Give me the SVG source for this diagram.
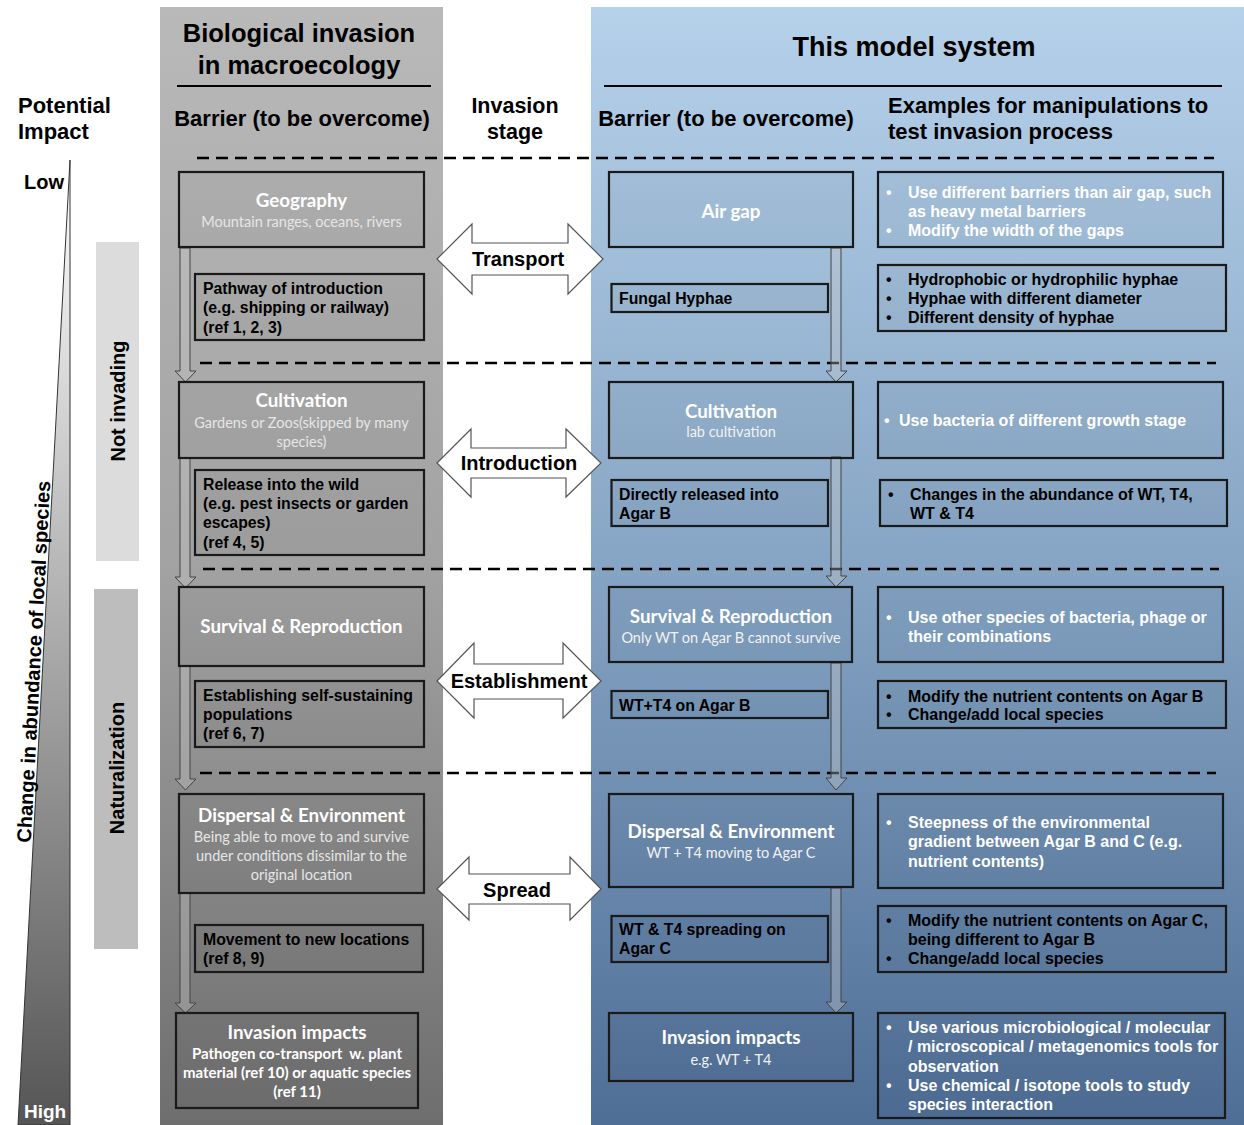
<svg xmlns="http://www.w3.org/2000/svg" width="1244" height="1125" viewBox="0 0 1244 1125">
<defs>
<linearGradient id="gL" x1="0" y1="0" x2="0" y2="1"><stop offset="0" stop-color="#b9b9b9"/><stop offset="0.5" stop-color="#a2a2a2"/><stop offset="1" stop-color="#6e6e6e"/></linearGradient>
<linearGradient id="gR" x1="0" y1="0" x2="0" y2="1"><stop offset="0" stop-color="#b6d1ea"/><stop offset="0.5" stop-color="#86a5c4"/><stop offset="1" stop-color="#4f6e96"/></linearGradient>
<linearGradient id="gT" x1="0" y1="0" x2="0" y2="1"><stop offset="0" stop-color="#ffffff"/><stop offset="1" stop-color="#555555"/></linearGradient>
<style>
.h{font-family:"Liberation Sans",Arial,sans-serif;font-weight:bold;fill:#000}
.box{fill:rgba(0,0,0,0.03);stroke:#1a1a1a;stroke-width:2.2}
.t{font-family:Lato,"Open Sans",sans-serif;font-weight:bold;font-size:18.8px;fill:#fff;text-anchor:middle}
.s{font-family:Lato,"Open Sans",sans-serif;font-size:14.5px;fill:#e6e6e6;text-anchor:middle}
.sb{font-family:Lato,"Open Sans",sans-serif;font-weight:bold;font-size:15px;fill:#fff;text-anchor:middle}
.b{font-family:"Liberation Sans",Arial,sans-serif;font-weight:bold;font-size:15.8px;fill:#000}
.w{font-family:"Liberation Sans",Arial,sans-serif;font-weight:bold;font-size:16px;fill:#fff}
.e{font-family:"Liberation Sans",Arial,sans-serif;font-weight:bold;font-size:16px;fill:#000}
.dash{stroke:#000;stroke-width:2.5;stroke-dasharray:12 7;fill:none}
.arr{fill:#c8c8c8;fill-opacity:0.35;stroke:#444;stroke-width:1}
.darr{fill:#fff;stroke:#555;stroke-width:1.2}
.lab{font-family:"Liberation Sans",Arial,sans-serif;font-weight:bold;font-size:20px;fill:#000;text-anchor:middle}
</style>
</defs>
<g id="background">
<rect x="160" y="7" width="283" height="1118" fill="url(#gL)"/>
<rect x="591" y="7" width="653" height="1118" fill="url(#gR)"/>
<polygon points="70,160 70,1125 18,1125" fill="url(#gT)" stroke="#333" stroke-width="1"/>
<rect x="96" y="242" width="43" height="319" fill="#dcdcdc"/>
<rect x="94" y="589" width="44" height="360" fill="#bdbdbd"/>
</g>
<g id="headers">
<text class="h" x="18" y="113" font-size="22">Potential</text>
<text class="h" x="18" y="139" font-size="22">Impact</text>
<text class="h" x="24" y="189" font-size="20">Low</text>
<text class="h" x="24" y="1118" font-size="19" style="fill:#fff">High</text>
<text class="h" font-size="20" text-anchor="middle" transform="translate(40.5,662) rotate(-86.9)">Change in abundance of local species</text>
<text class="h" font-size="20" text-anchor="middle" transform="translate(125,401) rotate(-90)">Not invading</text>
<text class="h" font-size="20" text-anchor="middle" transform="translate(124,768) rotate(-90)">Naturalization</text>
<text class="h" x="299" y="42" font-size="25.5" text-anchor="middle">Biological invasion</text>
<text class="h" x="299" y="74" font-size="25.5" text-anchor="middle">in macroecology</text>
<line x1="177" y1="86" x2="431" y2="86" stroke="#000" stroke-width="2"/>
<text class="h" x="302" y="126" font-size="22" text-anchor="middle">Barrier (to be overcome)</text>
<text class="h" x="515" y="113" font-size="21.5" text-anchor="middle">Invasion</text>
<text class="h" x="515" y="139" font-size="21.5" text-anchor="middle">stage</text>
<text class="h" x="914" y="56" font-size="27" text-anchor="middle">This model system</text>
<line x1="604" y1="86" x2="1222" y2="86" stroke="#000" stroke-width="2"/>
<text class="h" x="726" y="126" font-size="22" text-anchor="middle">Barrier (to be overcome)</text>
<text class="h" x="888" y="113" font-size="22">Examples for manipulations to</text>
<text class="h" x="888" y="139" font-size="22">test invasion process</text>
<line class="dash" x1="197" y1="158" x2="1214" y2="158"/>
<line class="dash" x1="200" y1="363" x2="1216" y2="363"/>
<line class="dash" x1="203" y1="569" x2="1219" y2="569"/>
<line class="dash" x1="200" y1="773" x2="1216" y2="773"/>
</g>
<g id="connectors">
<polygon class="arr" points="180,248 190,248 190,371 196,371 185.5,382 175,371 180,371"/>
<polygon class="arr" points="180,458 190,458 190,577 196,577 185.5,588 175,577 180,577"/>
<polygon class="arr" points="180,666 190,666 190,779 196,779 185.5,790 175,779 180,779"/>
<polygon class="arr" points="180,893 190,893 190,1003 196,1003 185.5,1013 175,1003 180,1003"/>
<polygon class="arr" points="831,248 841,248 841,371 847,371 836,382 826,371 831,371"/>
<polygon class="arr" points="831,457 841,457 841,576 847,576 836,587 826,576 831,576"/>
<polygon class="arr" points="831,663 841,663 841,778 847,778 836,790 826,778 831,778"/>
<polygon class="arr" points="831,888 841,888 841,1002 847,1002 836,1013 826,1002 831,1002"/>
<polygon class="darr" points="437,259 472,224 472,243 568,243 568,224 603,259 568,294 568,275 472,275 472,294"/>
<polygon class="darr" points="437,463 471,429 471,448 566,448 566,429 601,463 566,497 566,478 471,478 471,497"/>
<polygon class="darr" points="437,681 474,643 474,664 563,664 563,643 601,681 563,718 563,699 474,699 474,718"/>
<polygon class="darr" points="437,889 469,857 469,874 570,874 570,857 601,889 570,920 570,904 469,904 469,920"/>
<text class="lab" x="518" y="266">Transport</text>
<text class="lab" x="519" y="470">Introduction</text>
<text class="lab" x="519" y="688">Establishment</text>
<text class="lab" x="517" y="897">Spread</text>
</g>
<g id="geography"><rect class="box" x="179" y="172" width="245" height="75"/>
<text class="t" x="301.5" y="207">Geography</text><text class="s" x="301.5" y="226.5">Mountain ranges, oceans, rivers</text></g>
<g id="pathway"><rect class="box" x="195" y="274" width="229" height="66"/>
<text class="b" x="203" y="293.5">Pathway of introduction</text><text class="b" x="203" y="313">(e.g. shipping or railway)</text><text class="b" x="203" y="332.5">(ref 1, 2, 3)</text></g>
<g id="cultivation-l"><rect class="box" x="179" y="382" width="245" height="76"/>
<text class="t" x="301.5" y="407">Cultivation</text><text class="s" x="301.5" y="427.5">Gardens or Zoos(skipped by many</text><text class="s" x="301.5" y="446.5">species)</text></g>
<g id="release"><rect class="box" x="195" y="470" width="229" height="85"/>
<text class="b" x="203" y="489.5">Release into the wild</text><text class="b" x="203" y="508.5">(e.g. pest insects or garden</text><text class="b" x="203" y="528">escapes)</text><text class="b" x="203" y="547.5">(ref 4, 5)</text></g>
<g id="survival-l"><rect class="box" x="179" y="587" width="245" height="79"/>
<text class="t" x="301.5" y="633">Survival &amp; Reproduction</text></g>
<g id="establishing"><rect class="box" x="195" y="681" width="229" height="66"/>
<text class="b" x="203" y="701">Establishing self-sustaining</text><text class="b" x="203" y="720">populations</text><text class="b" x="203" y="739">(ref 6, 7)</text></g>
<g id="dispersal-l"><rect class="box" x="179" y="794" width="245" height="99"/>
<text class="t" x="301.5" y="822">Dispersal &amp; Environment</text><text class="s" x="301.5" y="841.5">Being able to move to and survive</text><text class="s" x="301.5" y="860.5">under conditions dissimilar to the</text><text class="s" x="301.5" y="879.5">original location</text></g>
<g id="movement"><rect class="box" x="195" y="925" width="228" height="47"/>
<text class="b" x="203" y="944.5">Movement to new locations</text><text class="b" x="203" y="963.5">(ref 8, 9)</text></g>
<g id="impacts-l"><rect class="box" x="176" y="1013" width="242" height="95"/>
<text class="t" x="297" y="1039">Invasion impacts</text><text class="sb" x="297" y="1059">Pathogen co-transport &#160;w. plant</text><text class="sb" x="297" y="1078">material (ref 10) or aquatic species</text><text class="sb" x="297" y="1097">(ref 11)</text></g>
<g id="airgap"><rect class="box" x="609" y="172" width="244" height="75"/>
<text class="t" x="731" y="218">Air gap</text></g>
<g id="hyphae"><rect class="box" x="611.5" y="284" width="216.5" height="28"/>
<text class="b" x="619" y="303.5">Fungal Hyphae</text></g>
<g id="cultivation-r"><rect class="box" x="609" y="382" width="244" height="76"/>
<text class="t" x="731" y="418">Cultivation</text><text class="s" x="731" y="436.5" style="fill:#f2f2f2">lab cultivation</text></g>
<g id="released"><rect class="box" x="611.5" y="480" width="216.5" height="46"/>
<text class="b" x="619" y="499.5">Directly released into</text><text class="b" x="619" y="518.5">Agar B</text></g>
<g id="survival-r"><rect class="box" x="609" y="587" width="243" height="75"/>
<text class="t" x="731" y="623">Survival &amp; Reproduction</text><text class="s" x="731" y="642.5" style="fill:#f2f2f2">Only WT on Agar B cannot survive</text></g>
<g id="wtt4"><rect class="box" x="611.5" y="691" width="216.5" height="27"/>
<text class="b" x="619" y="710.5">WT+T4 on Agar B</text></g>
<g id="dispersal-r"><rect class="box" x="609" y="794" width="244" height="93"/>
<text class="t" x="731" y="838">Dispersal &amp; Environment</text><text class="s" x="731" y="857.5" style="fill:#f2f2f2">WT + T4 moving to Agar C</text></g>
<g id="spreading"><rect class="box" x="611.5" y="916" width="216.5" height="46"/>
<text class="b" x="619" y="934.5">WT &amp; T4 spreading on</text><text class="b" x="619" y="953.5">Agar C</text></g>
<g id="impacts-r"><rect class="box" x="609" y="1013" width="244" height="68"/>
<text class="t" x="731" y="1044">Invasion impacts</text><text class="s" x="731" y="1064.5" style="fill:#f2f2f2">e.g. WT + T4</text></g>
<g id="ex1"><rect class="box" x="878" y="172" width="345" height="75"/>
<text class="w" x="886" y="197.5">•</text><text class="w" x="908" y="197.5">Use different barriers than air gap, such</text><text class="w" x="908" y="216.5">as heavy metal barriers</text><text class="w" x="886" y="235.5">•</text><text class="w" x="908" y="235.5">Modify the width of the gaps</text></g>
<g id="ex2"><rect class="box" x="878" y="265" width="348" height="66"/>
<text class="e" x="886" y="284.5">•</text><text class="e" x="908" y="284.5">Hydrophobic or hydrophilic hyphae</text><text class="e" x="886" y="303.5">•</text><text class="e" x="908" y="303.5">Hyphae with different diameter</text><text class="e" x="886" y="322.5">•</text><text class="e" x="908" y="322.5">Different density of hyphae</text></g>
<g id="ex3"><rect class="box" x="878" y="382" width="345" height="76"/>
<text class="w" x="884" y="425.5">•</text><text class="w" x="899" y="425.5">Use bacteria of different growth stage</text></g>
<g id="ex4"><rect class="box" x="880" y="480" width="347" height="46"/>
<text class="e" x="888" y="499.5">•</text><text class="e" x="910" y="499.5">Changes in the abundance of WT, T4,</text><text class="e" x="910" y="518.5">WT &amp; T4</text></g>
<g id="ex5"><rect class="box" x="878" y="587" width="345" height="75"/>
<text class="w" x="886" y="622.5">•</text><text class="w" x="908" y="622.5">Use other species of bacteria, phage or</text><text class="w" x="908" y="641.5">their combinations</text></g>
<g id="ex6"><rect class="box" x="878" y="681" width="348" height="47"/>
<text class="e" x="886" y="701.5">•</text><text class="e" x="908" y="701.5">Modify the nutrient contents on Agar B</text><text class="e" x="886" y="719.5">•</text><text class="e" x="908" y="719.5">Change/add local species</text></g>
<g id="ex7"><rect class="box" x="878" y="794" width="345" height="94"/>
<text class="w" x="886" y="827.5">•</text><text class="w" x="908" y="827.5">Steepness of the environmental</text><text class="w" x="908" y="847">gradient between Agar B and C (e.g.</text><text class="w" x="908" y="866.5">nutrient contents)</text></g>
<g id="ex8"><rect class="box" x="878" y="906" width="348" height="66"/>
<text class="e" x="886" y="925.5">•</text><text class="e" x="908" y="925.5">Modify the nutrient contents on Agar C,</text><text class="e" x="908" y="944.5">being different to Agar B</text><text class="e" x="886" y="963.5">•</text><text class="e" x="908" y="963.5">Change/add local species</text></g>
<g id="ex9"><rect class="box" x="878" y="1013" width="347" height="105"/>
<text class="w" x="886" y="1032.5">•</text><text class="w" x="908" y="1032.5">Use various microbiological / molecular</text><text class="w" x="908" y="1052">/ microscopical / metagenomics tools for</text><text class="w" x="908" y="1071.5">observation</text><text class="w" x="886" y="1090.5">•</text><text class="w" x="908" y="1090.5">Use chemical / isotope tools to study</text><text class="w" x="908" y="1109.5">species interaction</text></g>
</svg>
